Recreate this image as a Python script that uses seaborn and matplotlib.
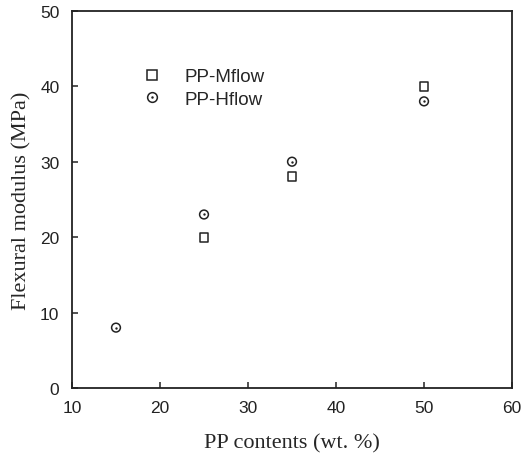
import numpy as np
import pandas as pd
import seaborn as sns
import matplotlib
matplotlib.use('Agg')
import matplotlib.pyplot as plt
from matplotlib.lines import Line2D
from matplotlib.legend_handler import HandlerTuple

# data
m_content = [25, 35, 50]
m_modulus = [20, 28, 40]
h_content = [15, 25, 35, 50]
h_modulus = [8, 23, 30, 38]

df = pd.concat([
    pd.DataFrame({'content': m_content, 'modulus': m_modulus, 'grade': 'PP-Mflow'}),
    pd.DataFrame({'content': h_content, 'modulus': h_modulus, 'grade': 'PP-Hflow'}),
], ignore_index=True)

sns.set_style('ticks')
plt.rcParams['font.family'] = ['Liberation Sans', 'DejaVu Sans']

fig = plt.figure(figsize=(5.27, 4.56), dpi=100)
ax = fig.add_axes([0.1366, 0.147, 0.835, 0.827])

sns.scatterplot(data=df, x='content', y='modulus', style='grade',
                markers={'PP-Mflow': 's', 'PP-Hflow': 'o'},
                s=40, facecolor='none', edgecolor='#222222', linewidth=1.1,
                legend=False, ax=ax)
# centre dot of the circle markers
sns.scatterplot(x=h_content, y=h_modulus, marker='o', s=3, color='#222222',
                linewidth=0, legend=False, ax=ax)

ax.set_xlim(10, 60)
ax.set_ylim(0, 50)
ax.set_xticks(range(10, 61, 10))
ax.set_yticks(range(0, 51, 10))
ax.tick_params(direction='in', length=4, width=1.1, labelsize=12.5, pad=9,
               colors='#222222', top=False, right=False)
for s in ax.spines.values():
    s.set_linewidth(1.3)
    s.set_color('#222222')

ax.set_xlabel('PP contents (wt. %)', family='Liberation Serif', fontsize=16, labelpad=13)
ax.set_ylabel('Flexural modulus (MPa)', family='Liberation Serif', fontsize=16, labelpad=6)

sq = Line2D([], [], marker='s', ls='none', markersize=6.5, mfc='none', mec='#222222', mew=1.1)
ci = Line2D([], [], marker='o', ls='none', markersize=7, mfc='none', mec='#222222', mew=1.1)
dot = Line2D([], [], marker='o', ls='none', markersize=1.8, color='#222222', mew=0)
ax.legend([sq, (ci, dot)], ['PP-Mflow', 'PP-Hflow'],
          handler_map={tuple: HandlerTuple(ndivide=1, pad=0)},
          loc='upper left', bbox_to_anchor=(0.123, 0.893), frameon=False,
          fontsize=13.5, handletextpad=1.2, handlelength=1.0, labelspacing=0.3)

fig.savefig('out.png', dpi=100)
